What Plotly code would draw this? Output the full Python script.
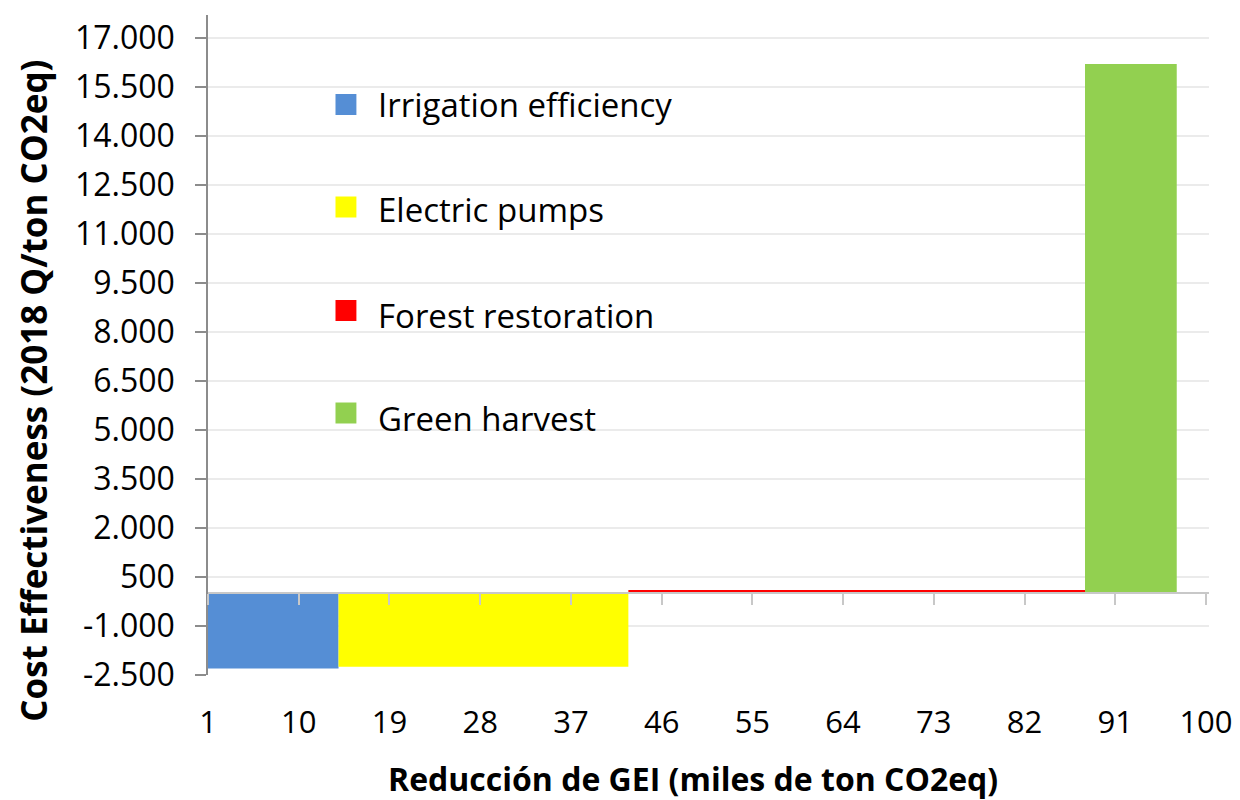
import plotly.graph_objects as go

# ---- data -------------------------------------------------------------
categories = ["Irrigation efficiency", "Electric pumps", "Forest restoration", "Green harvest"]
widths = [12.95, 28.75, 45.3, 9.1]        # GHG reduction of each measure (thousand t CO2eq)
values = [-2300, -2250, 100, 16200]       # cost effectiveness (2018 Q / t CO2eq)
colors = ["#558ED5", "#FFFF00", "#FF0000", "#92D050"]
x_origin = 1
x_ticks = [1, 10, 19, 28, 37, 46, 55, 64, 73, 82, 91, 100]
y_ticks = [-2500, -1000, 500, 2000, 3500, 5000, 6500, 8000, 9500, 11000, 12500, 14000, 15500, 17000]
y_ticktext = [f"{v:,}".replace(",", ".") for v in y_ticks]

# ---- layout geometry (pixels) ----------------------------------------
OFF = 8                      # page body margin
W, H = 1240 - OFF, 800 - OFF
L, T = 208 - OFF, 15 - OFF   # plot area left / top in figure pixels
R = W - (1213 - OFF)
B = H - (675 - OFF)
PW, PH = W - L - R, H - T - B
X_RANGE = [1, 100.3]
Y_RANGE = [-2500, 17700]
FONT = "'Open Sans', sans-serif"


def px_x(p):
    """screen x pixel (reference) -> paper fraction"""
    return (p - OFF - L) / PW


def px_y(p):
    """screen y pixel (reference) -> paper fraction"""
    return (H - B - (p - OFF)) / PH


# bar centres from cumulative widths
lefts = []
acc = x_origin
for w in widths:
    lefts.append(acc)
    acc += w
centers = [l + w / 2 for l, w in zip(lefts, widths)]

fig = go.Figure()
for name, c, w, v, col in zip(categories, centers, widths, values, colors):
    fig.add_trace(go.Bar(
        x=[c], y=[v], width=[w], name=name,
        marker=dict(color=col, line=dict(width=0)),
        showlegend=False, hoverinfo="name+y",
    ))

# hidden trace so that the zero-crossing axis is drawn
fig.add_trace(go.Scatter(x=[None], y=[None], xaxis="x2", showlegend=False, hoverinfo="skip"))

shapes = []
annotations = []

# white legend backgrounds (hide gridlines behind entries)
leg_text_y = [104, 210, 315, 418]
leg_mark_y = [104.5, 207, 310.5, 413]
box_ranges = [(69, 150), (172, 248), (276, 352), (386, 453)]
for (y0, y1) in box_ranges:
    shapes.append(dict(type="rect", xref="paper", yref="paper",
                       x0=px_x(361), x1=px_x(906), y0=px_y(y1), y1=px_y(y0),
                       fillcolor="white", line=dict(width=0), layer="between"))

for name, col, ty, my in zip(categories, colors, leg_text_y, leg_mark_y):
    shapes.append(dict(type="rect", xref="paper", yref="paper",
                       x0=px_x(336), x1=px_x(357), y0=px_y(my + 10.5), y1=px_y(my - 10.5),
                       fillcolor=col, line=dict(width=0), layer="above"))
    annotations.append(dict(text=name, xref="paper", yref="paper",
                            x=px_x(377), y=px_y(ty), xanchor="left", yanchor="middle",
                            showarrow=False, font=dict(family=FONT, size=33, color="#000000")))

# axis titles
annotations.append(dict(text="<b>Reducción de GEI (miles de ton CO2eq)</b>", xref="paper", yref="paper",
                        x=px_x(695), y=px_y(779), xanchor="center", yanchor="middle",
                        showarrow=False, font=dict(family=FONT, size=32, color="#000000")))
annotations.append(dict(text="<b>Cost Effectiveness (2018 Q/ton CO2eq)</b>", xref="paper", yref="paper",
                        x=px_x(32), y=px_y(391), xanchor="center", yanchor="middle", textangle=-90,
                        showarrow=False, font=dict(family=FONT, size=35, color="#000000")))

zero_pos = (0 - Y_RANGE[0]) / (Y_RANGE[1] - Y_RANGE[0])

fig.update_layout(
    width=W, height=H,
    margin=dict(l=L, r=R, t=T, b=B, pad=0),
    paper_bgcolor="white", plot_bgcolor="white",
    barmode="overlay",
    showlegend=False,
    shapes=shapes,
    annotations=annotations,
    font=dict(family=FONT, size=30, color="#000000"),
    xaxis=dict(
        range=X_RANGE, tickvals=x_ticks, ticktext=[str(t) for t in x_ticks],
        showline=False, showgrid=False, zeroline=False,
        ticks="outside", ticklen=20, tickcolor="rgba(0,0,0,0)",
        ticklabeloverflow="allow",
        tickfont=dict(family=FONT, size=31, color="#000000"),
    ),
    xaxis2=dict(
        range=X_RANGE, overlaying="x", anchor="free", position=zero_pos, side="bottom",
        tickvals=x_ticks, showticklabels=False,
        showline=True, linecolor="#c8c8c8", linewidth=1.5,
        ticks="outside", ticklen=11, tickcolor="#c8c8c8", tickwidth=1.5,
        showgrid=False, zeroline=False, layer="above traces",
    ),
    yaxis=dict(
        range=Y_RANGE, tickvals=y_ticks, ticktext=y_ticktext,
        showline=True, linecolor="#8c8c8c", linewidth=1.5,
        ticks="outside", ticklen=11, tickcolor="#8c8c8c", tickwidth=1.5,
        ticklabelstandoff=14,
        showgrid=True, gridcolor="#ebebeb", gridwidth=1.5, zeroline=False,
        tickfont=dict(family=FONT, size=32, color="#000000"),
    ),
)

fig.write_html("out.html")
